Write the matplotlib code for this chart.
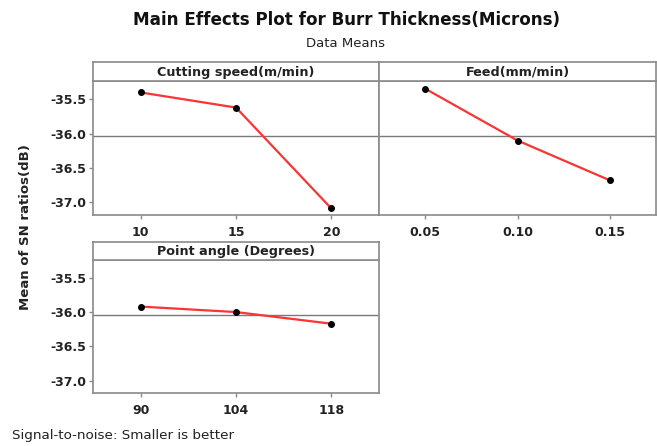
import numpy as np
import matplotlib
matplotlib.use("Agg")
import matplotlib.pyplot as plt

# ---- data ----
title = "Main Effects Plot for Burr Thickness(Microns)"
subtitle = "Data Means"
ylabel = "Mean of SN ratios(dB)"
footer = "Signal-to-noise: Smaller is better"

factors = ["Cutting speed(m/min)", "Feed(mm/min)", "Point angle (Degrees)"]
speed_levels = ["10", "15", "20"]
speed_sn = [-35.40, -35.62, -37.09]
feed_levels = ["0.05", "0.10", "0.15"]
feed_sn = [-35.345, -36.10, -36.68]
angle_levels = ["90", "104", "118"]
angle_sn = [-35.92, -36.00, -36.17]
y_ticks = [-35.5, -36.0, -36.5, -37.0]
y_tick_labels = ["-35.5", "-36.0", "-36.5", "-37.0"]

grand_mean = np.mean(speed_sn + feed_sn + angle_sn)

W, H = 657, 446
fig = plt.figure(figsize=(W / 100, H / 100), dpi=100)
plt.rcParams['font.family'] = ['DejaVu Sans']

FRAME = "#8a8a8a"
LINE = "#ff3333"


def px(l, t, r, b):
    return [l / W, (H - b) / H, (r - l) / W, (b - t) / H]


panels = [
    (factors[0], speed_levels, speed_sn, px(93, 81, 379, 215), px(93, 62, 379, 81), True),
    (factors[1], feed_levels, feed_sn, px(379, 81, 656, 215), px(379, 62, 656, 81), False),
    (factors[2], angle_levels, angle_sn, px(93, 259.5, 379, 393.3), px(93, 242, 379, 259.5), True),
]

for name, levels, vals, rect, hrect, show_y in panels:
    ax = fig.add_axes(rect)
    x = np.arange(1, len(levels) + 1)
    ax.axhline(grand_mean, color="#7a7a7a", lw=1.0, zorder=1)
    ax.plot(x, vals, color=LINE, lw=1.6, zorder=2)
    ax.plot(x, vals, "o", color="black", ms=4, zorder=3)
    ax.set_xlim(0.5, len(levels) + 0.5)
    ax.set_ylim(-37.185, -35.233)
    ax.set_xticks(x)
    ax.set_xticklabels(levels, fontsize=9, fontweight="bold", color="#222222")
    ax.set_yticks(y_ticks)
    if show_y:
        ax.set_yticklabels(y_tick_labels, fontsize=9, fontweight="bold", color="#222222")
        ax.tick_params(axis="y", length=3, width=1, color=FRAME, pad=2)
    else:
        ax.tick_params(axis="y", left=False, labelleft=False)
    ax.tick_params(axis="x", length=3, width=1, color=FRAME, pad=5)
    for s in ax.spines.values():
        s.set_color(FRAME)
        s.set_linewidth(1.2)

    hax = fig.add_axes(hrect)
    hax.set_xticks([])
    hax.set_yticks([])
    for s in hax.spines.values():
        s.set_color(FRAME)
        s.set_linewidth(1.2)
    hax.text(0.5, 0.45, name, ha="center", va="center", fontsize=9.2,
             fontweight="bold", color="#222222", transform=hax.transAxes)

fig.text(347 / W, 1 - 20 / H, title, ha="center", va="center", fontsize=12.1,
         fontweight="bold", color="#111111")
fig.text(346 / W, 1 - 43.5 / H, subtitle, ha="center", va="center", fontsize=9.5,
         color="#222222")
fig.text(26 / W, 1 - 227 / H, ylabel, ha="center", va="center", rotation=90,
         fontsize=9.5, fontweight="bold", color="#222222")
fig.text(12 / W, 1 - 436 / H, footer, ha="left", va="center", fontsize=9.7,
         color="#222222")

fig.savefig("out.png", dpi=100, facecolor="white")
